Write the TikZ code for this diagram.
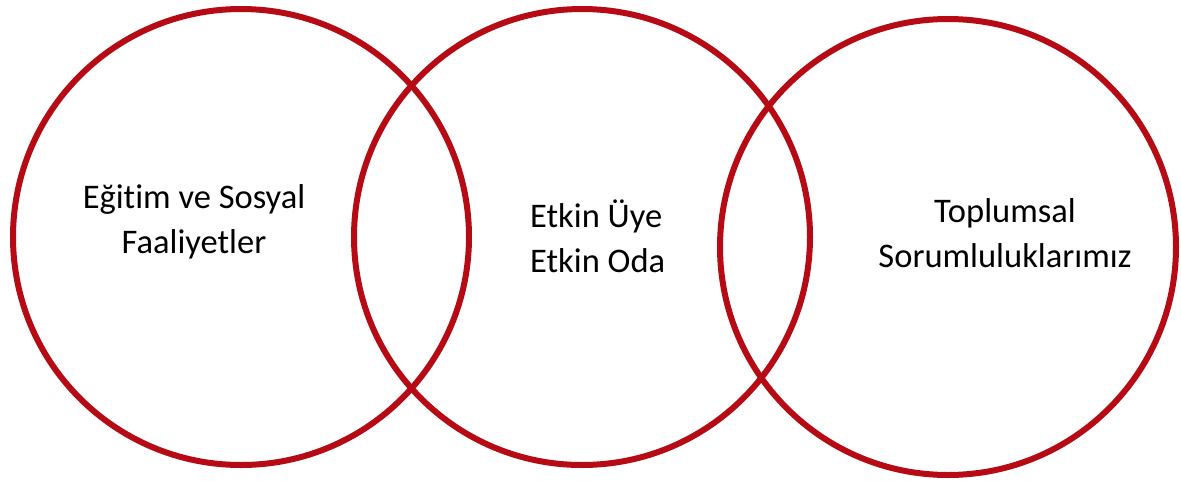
\documentclass[tikz,border=0pt]{standalone}
\usepackage{fontspec}
\setmainfont{Carlito}[Ligatures={NoCommon}]
\usepackage{tikz}
\usetikzlibrary{positioning}

\definecolor{ringred}{RGB}{182,10,20}

\begin{document}
\begin{tikzpicture}[
		x=1pt,
		y=-1pt,
		ring/.style={
			circle,
			draw=ringred,
			line width=6pt,
			minimum size=456pt,
			inner sep=0pt
		},
		label/.style={
			font=\fontsize{34.5}{45}\selectfont,
			align=center,
			inner sep=0pt
		}
		]
		
		\useasboundingbox (0,0) rectangle (1181,480);
		
		%--------------------------------------------------
		% Circles
		%--------------------------------------------------
		
		\node[ring] (egitim) at (241,237) {};
		\node[ring] (etkin)  at (582,237) {};
		\node[ring] (toplum) at (948,247) {};
		
		%--------------------------------------------------
		% Texts
		%--------------------------------------------------
		
		\node[label] (egitimtext) at (194,222) {Eğitim ve Sosyal\\Faaliyetler};
		\node[label,align=left,anchor=west] (etkintext) at (530,236) {Etkin Üye\\Etkin Oda};
		\node[label] (toplumtext) at (1005,233) {Toplumsal\\Sorumluluklarımız};
		
	\end{tikzpicture}
\end{document}
